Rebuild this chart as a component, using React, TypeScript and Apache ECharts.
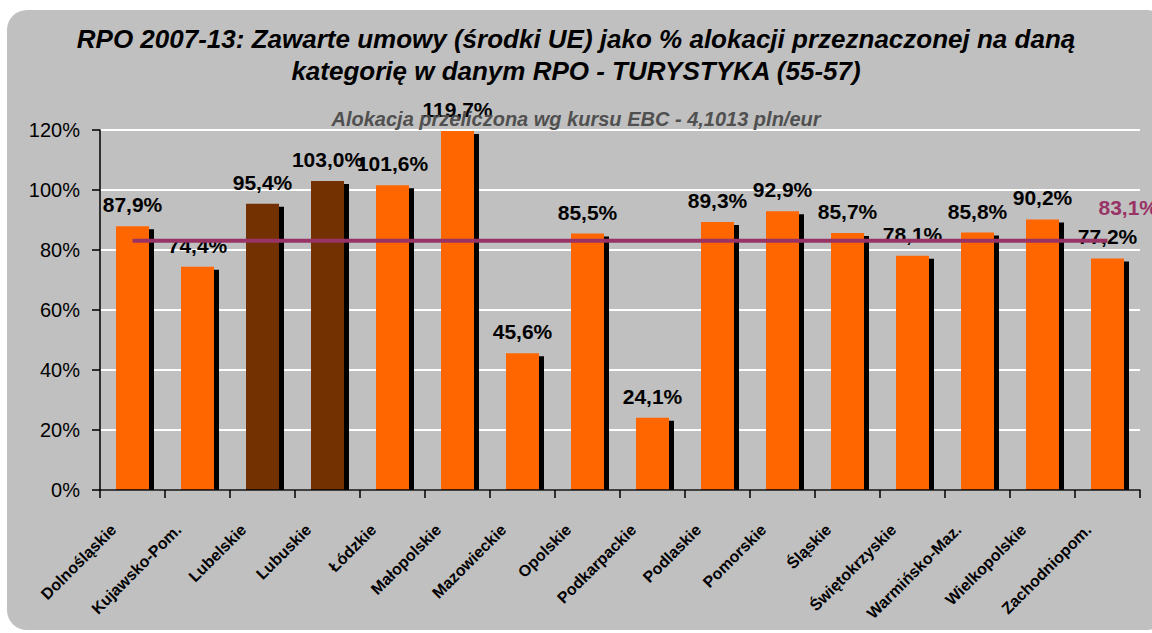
import React, { useEffect, useRef } from "react";
import * as echarts from "echarts";

const titleText =
  "RPO 2007-13: Zawarte umowy (środki UE) jako % alokacji przeznaczonej na daną\nkategorię w danym RPO - TURYSTYKA (55-57)";
const subtitleText = "Alokacja przeliczona wg kursu EBC - 4,1013 pln/eur";

const categories = [
  "Dolnośląskie",
  "Kujawsko-Pom.",
  "Lubelskie",
  "Lubuskie",
  "Łódzkie",
  "Małopolskie",
  "Mazowieckie",
  "Opolskie",
  "Podkarpackie",
  "Podlaskie",
  "Pomorskie",
  "Śląskie",
  "Świętokrzyskie",
  "Warmińsko-Maz.",
  "Wielkopolskie",
  "Zachodniopom.",
];
const values = [87.9, 74.4, 95.4, 103.0, 101.6, 119.7, 45.6, 85.5, 24.1, 89.3, 92.9, 85.7, 78.1, 85.8, 90.2, 77.2];
const averageValue = 83.1;
const highlighted = ["Lubelskie", "Lubuskie"];
const yMin = 0;
const yMax = 120;
const yInterval = 20;

const FONT = "'Liberation Sans', Arial, sans-serif";
const BAR_W = 33;
const fmt = (v: number) => v.toFixed(1).replace(".", ",") + "%";

export default function App() {
  const ref = useRef<HTMLDivElement>(null);
  useEffect(() => {
    if (!ref.current) return;
    const chart = echarts.init(ref.current, undefined, { renderer: "svg" });
    chart.setOption({
      animation: false,
      backgroundColor: "#ffffff",
      graphic: [
        {
          type: "rect",
          z: -10,
          shape: { x: 7, y: 10, width: 1160, height: 620, r: 20 },
          style: { fill: "#c0c0c0" },
        },
      ],
      title: [
        {
          text: titleText,
          left: "center",
          top: 18,
          textStyle: {
            fontFamily: FONT,
            fontSize: 26,
            fontWeight: "bold",
            fontStyle: "italic",
            lineHeight: 32,
            color: "#000",
          },
        },
        {
          text: subtitleText,
          left: "center",
          top: 104,
          textStyle: {
            fontFamily: FONT,
            fontSize: 20,
            fontWeight: "bold",
            fontStyle: "italic",
            color: "#505050",
          },
        },
      ],
      grid: { left: 100, right: 12, top: 130, bottom: 143, containLabel: false },
      xAxis: {
        type: "category",
        data: categories,
        boundaryGap: true,
        z: 10,
        axisLine: { show: true, lineStyle: { color: "#000", width: 1.5 } },
        axisTick: { show: true, length: 8, lineStyle: { color: "#000", width: 1.5 } },
        axisLabel: {
          interval: 0,
          rotate: 45,
          margin: 18,
          padding: [0, 27, 0, 0],
          fontFamily: FONT,
          fontSize: 16,
          fontWeight: "bold",
          color: "#000",
        },
        splitLine: { show: false },
      },
      yAxis: {
        type: "value",
        min: yMin,
        max: yMax,
        interval: yInterval,
        axisLine: { show: true, lineStyle: { color: "#000", width: 1.5 } },
        axisTick: { show: true, length: 8, lineStyle: { color: "#000", width: 1.5 } },
        axisLabel: {
          formatter: "{value}%",
          margin: 20,
          fontFamily: FONT,
          fontSize: 20,
          color: "#000",
        },
        splitLine: { show: true, lineStyle: { color: "#ffffff", width: 2 } },
      },
      series: [
        {
          type: "custom",
          name: "shadow",
          z: 1,
          silent: true,
          data: values.map((v, i) => [i, v]),
          renderItem: (params: any, api: any) => {
            const top = api.coord([api.value(0), api.value(1)]);
            const base = api.coord([api.value(0), 0]);
            return {
              type: "rect",
              shape: {
                x: top[0] - BAR_W / 2 + 5,
                y: top[1] + 3,
                width: BAR_W,
                height: Math.max(0, base[1] - top[1] - 3),
              },
              style: { fill: "#000" },
            };
          },
        },
        {
          type: "bar",
          data: values.map((v, i) => ({
            value: v,
            itemStyle: { color: highlighted.includes(categories[i]) ? "#733000" : "#ff6600" },
          })),
          barWidth: BAR_W,
          z: 2,
          label: {
            show: true,
            position: "top",
            distance: 11,
            formatter: (p: any) => fmt(p.value),
            fontFamily: FONT,
            fontSize: 21,
            fontWeight: "bold",
            color: "#000",
          },
        },
        {
          type: "line",
          data: categories.map(() => averageValue),
          showSymbol: false,
          symbol: "none",
          z: 5,
          lineStyle: { color: "#993366", width: 4 },
          endLabel: {
            show: true,
            formatter: () => fmt(averageValue),
            offset: [-17, -33],
            fontFamily: FONT,
            fontSize: 21,
            fontWeight: "bold",
            color: "#993366",
          },
        },
      ],
    });
    return () => chart.dispose();
  }, []);
  return (
    <div
      ref={ref}
      style={{ position: "absolute", left: 0, top: 0, width: 1152, height: 633 }}
    />
  );
}
